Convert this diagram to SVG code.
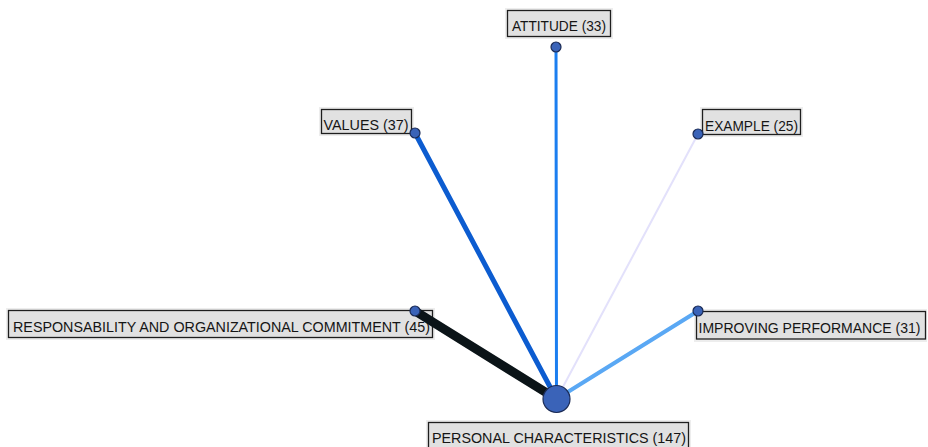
<svg xmlns="http://www.w3.org/2000/svg" width="928" height="447" viewBox="0 0 928 447">
  <style>
    .lbl rect.halo { fill: #ededed; stroke: none; }
    .lbl rect.box { fill: #e1e1e1; stroke: #1e1e1e; stroke-width: 1.3; }
    .lbl text { font-family: "Liberation Sans", Arial, sans-serif; font-size: 15px; fill: #151515; }
    .lbl text.tight { font-size: 14.2px; }
    .node circle { fill: #3a63b8; stroke: #1b2b55; stroke-width: 1.2; }
    .edge { fill: none; stroke-linecap: round; }
  </style>
  <rect width="928" height="447" fill="#ffffff"/>

  <!-- label boxes sit underneath the connectors -->
  <g id="attitude-label" class="lbl">
    <rect class="halo" x="505" y="8" width="108" height="31"/>
    <rect class="box" x="507.5" y="10.5" width="103" height="26"/>
    <text x="512" y="30.5" textLength="94" lengthAdjust="spacingAndGlyphs">ATTITUDE (33)</text>
  </g>
  <g id="values-label" class="lbl">
    <rect class="halo" x="319" y="107" width="95" height="29"/>
    <rect class="box" x="321.5" y="109.5" width="90" height="24"/>
    <text x="323.5" y="129.5" textLength="85" lengthAdjust="spacingAndGlyphs">VALUES (37)</text>
  </g>
  <g id="example-label" class="lbl">
    <rect class="halo" x="700" y="107" width="103" height="30"/>
    <rect class="box" x="702.5" y="109.5" width="98" height="25"/>
    <text x="705" y="131" textLength="93" lengthAdjust="spacingAndGlyphs">EXAMPLE (25)</text>
  </g>
  <g id="responsability-label" class="lbl">
    <rect class="halo" x="6" y="308" width="429" height="32"/>
    <rect class="box" x="8.5" y="310.5" width="424" height="27"/>
    <text x="13" y="331.5" textLength="417" lengthAdjust="spacingAndGlyphs">RESPONSABILITY AND ORGANIZATIONAL COMMITMENT (45)</text>
  </g>
  <g id="improving-label" class="lbl">
    <rect class="halo" x="694" y="309" width="233" height="33"/>
    <rect class="box" x="696.5" y="311.5" width="229" height="27.5"/>
    <text class="tight" x="698.5" y="332.5" textLength="222" lengthAdjust="spacingAndGlyphs">IMPROVING PERFORMANCE (31)</text>
  </g>
  <g id="personal-label" class="lbl">
    <rect class="halo" x="426" y="420" width="265" height="27"/>
    <rect class="box" x="428.5" y="422.5" width="260" height="26"/>
    <text x="432" y="442.5" textLength="254" lengthAdjust="spacingAndGlyphs">PERSONAL CHARACTERISTICS (147)</text>
  </g>

  <g id="connectors">
    <line class="edge" x1="556.5" y1="399" x2="698" y2="134" stroke="#e3e1fb" stroke-width="2"/>
    <line class="edge" x1="556.5" y1="399" x2="556" y2="47" stroke="#1b7ef0" stroke-width="3"/>
    <line class="edge" x1="556.5" y1="399" x2="698" y2="311" stroke="#5aa8f4" stroke-width="4"/>
    <line class="edge" x1="556.5" y1="399" x2="415" y2="133" stroke="#0c5cd0" stroke-width="5"/>
    <line class="edge" x1="556.5" y1="399" x2="415" y2="311" stroke="#0b1418" stroke-width="9"/>
  </g>

  <g id="attitude" class="node"><circle cx="556" cy="47" r="5"/></g>
  <g id="values" class="node"><circle cx="415" cy="133" r="5"/></g>
  <g id="example" class="node"><circle cx="698" cy="134" r="5"/></g>
  <g id="responsability" class="node"><circle cx="415" cy="311" r="5"/></g>
  <g id="improving" class="node"><circle cx="698" cy="311" r="5"/></g>
  <g id="personal" class="node"><circle cx="556.5" cy="399" r="13.5"/></g>
</svg>
